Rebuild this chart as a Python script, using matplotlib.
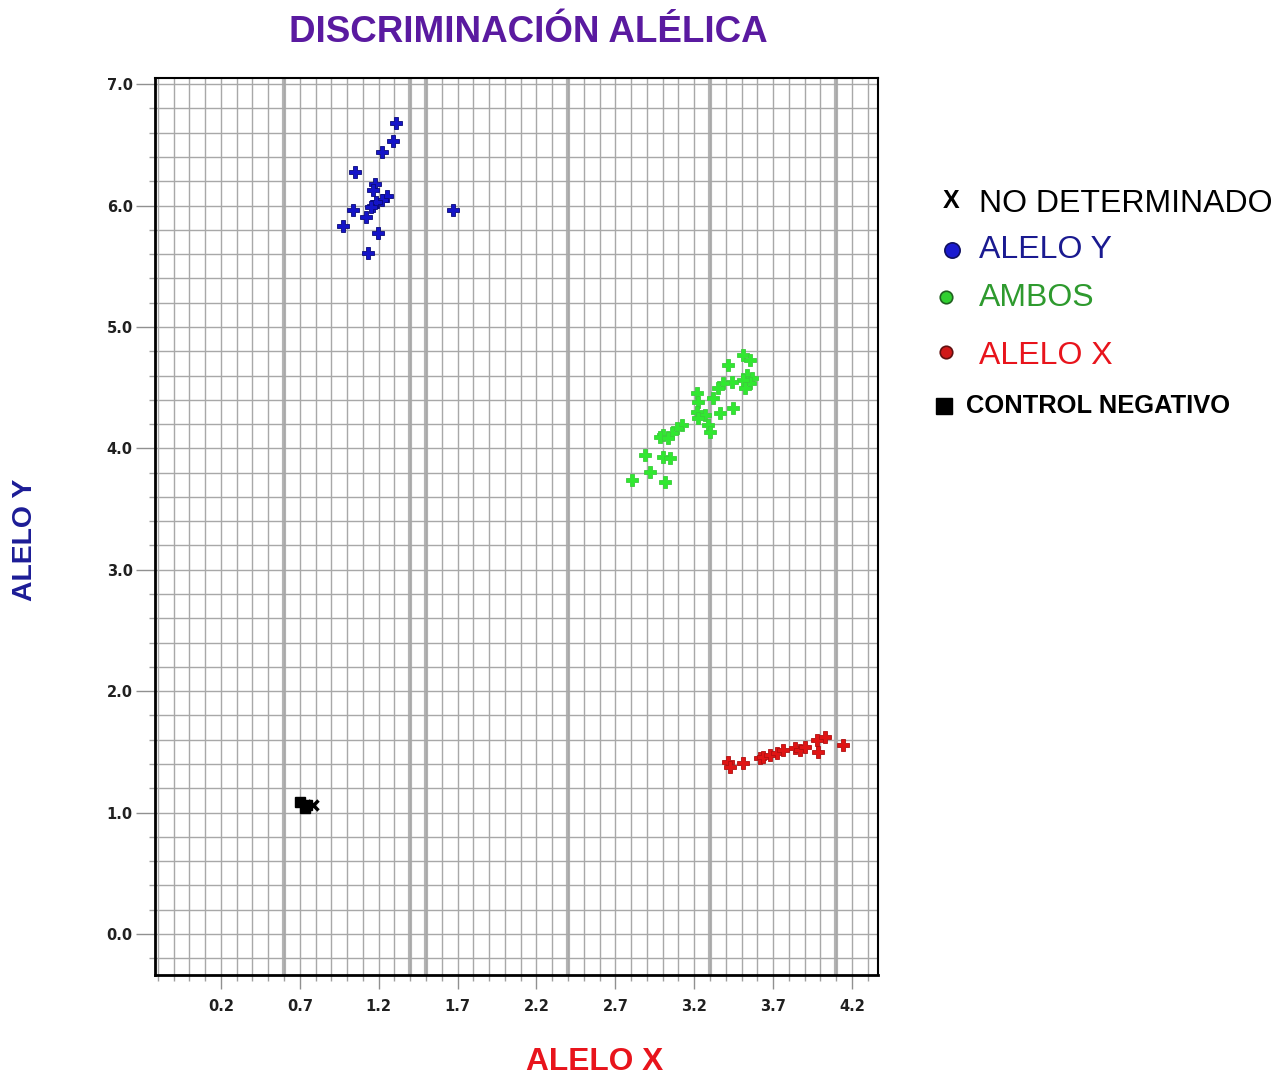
import matplotlib.pyplot as plt
import numpy as np

# values
alelo_y_x = [1.307, 1.292, 1.222, 1.049, 1.176, 1.165, 1.250, 1.219, 1.164, 1.185,
             1.150, 1.039, 1.119, 0.975, 1.197, 1.134, 1.673]
alelo_y_y = [6.683, 6.535, 6.444, 6.279, 6.178, 6.128, 6.080, 6.046, 6.000, 6.030,
             5.990, 5.964, 5.904, 5.832, 5.777, 5.612, 5.964]

ambos_x = [3.511, 3.553, 3.416, 3.533, 3.564, 3.553, 3.511, 3.522, 3.437, 3.384,
           3.352, 3.215, 3.321, 3.226, 3.448, 3.215, 3.268, 3.363, 3.226, 3.289,
           3.300, 3.120, 3.089, 3.057, 3.004, 2.983, 3.036, 2.888, 3.004, 3.046,
           2.920, 2.804, 3.015]
ambos_y = [4.769, 4.728, 4.687, 4.605, 4.577, 4.536, 4.563, 4.495, 4.549, 4.536,
           4.495, 4.453, 4.412, 4.385, 4.330, 4.302, 4.275, 4.289, 4.248, 4.193,
           4.137, 4.193, 4.165, 4.124, 4.110, 4.096, 4.082, 3.946, 3.932, 3.918,
           3.808, 3.740, 3.726]

alelo_x_x = [3.416, 3.427, 3.511, 3.617, 3.638, 3.680, 3.722, 3.764, 3.839, 3.870,
             3.902, 3.976, 4.029, 3.987, 4.145]
alelo_x_y = [1.419, 1.378, 1.411, 1.447, 1.460, 1.474, 1.488, 1.515, 1.529, 1.515,
             1.543, 1.598, 1.625, 1.502, 1.557]

control_x = [0.701, 0.743, 0.732]
control_y = [1.090, 1.063, 1.035]

nodet_x = [0.785]
nodet_y = [1.060]

x_ticks = [0.2, 0.7, 1.2, 1.7, 2.2, 2.7, 3.2, 3.7, 4.2]
y_ticks = [0.0, 1.0, 2.0, 3.0, 4.0, 5.0, 6.0, 7.0]

legend_labels = ['NO DETERMINADO', 'ALELO Y', 'AMBOS', 'ALELO X', 'CONTROL NEGATIVO']

W, H = 1281, 1076
fig = plt.figure(figsize=(W / 100, H / 100), dpi=100)
ax = fig.add_axes([155 / W, 1 - 975 / H, (878 - 155) / W, (975 - 78) / H])

ax.set_xlim(-0.218, 4.365)
ax.set_ylim(-0.338, 7.051)

# grid
ax.set_xticks(x_ticks)
ax.set_xticklabels(['%.1f' % v for v in x_ticks])
ax.set_xticks(np.arange(-0.2, 4.36, 0.1), minor=True)
ax.set_yticks(y_ticks)
ax.set_yticklabels(['%.1f' % v for v in y_ticks])
ax.set_yticks(np.arange(-0.2, 7.01, 0.2), minor=True)
ax.grid(which='both', color='#a8a8a8', lw=1.0)
ax.set_axisbelow(True)
for xv in [0.6, 1.4, 1.5, 2.4, 3.3, 4.1]:
    ax.axvline(xv, color='#b4b4b4', lw=3, zorder=0.5)

ax.tick_params(which='major', axis='x', length=10, width=1, color='#909090', pad=7)
ax.tick_params(which='major', axis='y', length=14, width=1, color='#909090', pad=2)
ax.tick_params(which='minor', length=4, width=1, color='#a0a0a0')
for lbl in ax.get_xticklabels() + ax.get_yticklabels():
    lbl.set_fontsize(10.5)
    lbl.set_fontweight('bold')
    lbl.set_color('#202020')
for s in ax.spines.values():
    s.set_color('black')
    s.set_linewidth(1.5)
ax.spines['left'].set_linewidth(2)
ax.spines['bottom'].set_linewidth(2)

# points
ax.plot(alelo_y_x, alelo_y_y, 'P', color='#1414c8', mec='#0a0a78', mew=0.6, ms=8, zorder=3)
ax.plot(ambos_x, ambos_y, 'P', color='#30e830', mec='#3ccc3c', mew=0.6, ms=8, zorder=3)
ax.plot(alelo_x_x, alelo_x_y, 'P', color='#e01414', mec='#b01010', mew=0.6, ms=8, zorder=3)
ax.plot(control_x, control_y, 's', color='black', ms=7, zorder=3)
ax.plot(nodet_x, nodet_y, 'x', color='black', ms=7, mew=2.5, zorder=3)

# titles
fig.text(528 / W, 1 - 32 / H, 'DISCRIMINACIÓN ALÉLICA', ha='center', va='center',
         fontsize=26.5, fontweight='bold', color='#5a1aa0', family='Liberation Sans')
fig.text(595 / W, 1 - 1062 / H, 'ALELO X', ha='center', va='center',
         fontsize=22.8, fontweight='bold', color='#e8141c', family='Liberation Sans')
fig.text(25 / W, 1 - 540 / H, 'ALELO Y', ha='center', va='center', rotation=90,
         fontsize=20.4, fontweight='bold', color='#1c1c96', family='Liberation Sans')

# hand made legend, in pixel coordinates
lg = fig.add_axes([0, 0, 1, 1], facecolor='none')
lg.set_xlim(0, W)
lg.set_ylim(H, 0)
lg.axis('off')
lg.text(951, 201, 'X', ha='center', va='center', fontsize=18, fontweight='bold',
        color='black', family='Liberation Sans')
lg.plot([952], [250], 'o', color='#1a1ad0', mec='#101060', mew=1.2, ms=11)
lg.plot([946], [297], 'o', color='#30d030', mec='#206020', mew=1.2, ms=9)
lg.plot([946], [352], 'o', color='#d01818', mec='#601010', mew=1.2, ms=9)
lg.plot([944], [406], 's', color='black', ms=12)
colors = ['black', '#1a1a90', '#2e9a2e', '#e8141c', 'black']
ys = [204, 250, 298, 356, 406]
xs = [979, 979, 979, 979, 966]
sizes = [23, 23, 23, 23, 18.4]
weights = ['normal', 'normal', 'normal', 'normal', 'bold']
for lab, c, yy, xx, fs, fw in zip(legend_labels, colors, ys, xs, sizes, weights):
    lg.text(xx, yy, lab, ha='left', va='center', fontsize=fs, fontweight=fw,
            color=c, family='Liberation Sans')

plt.savefig('out.png', dpi=100)
